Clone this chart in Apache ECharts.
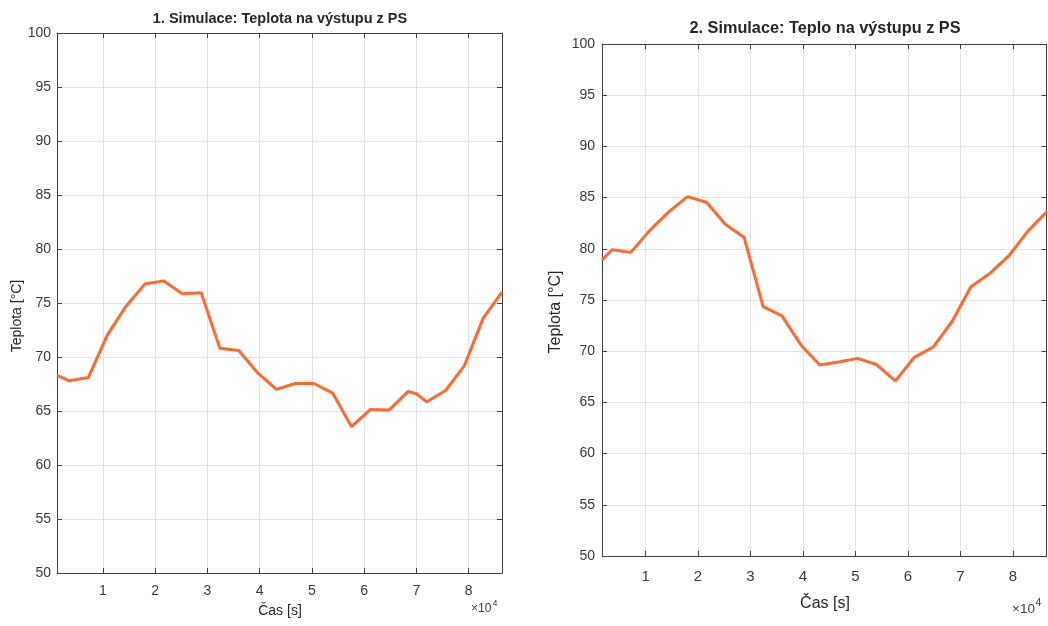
<!DOCTYPE html>
<html>
<head>
<meta charset="utf-8">
<title>Simulace – teplota na výstupu z PS</title>
<script src="https://cdn.jsdelivr.net/npm/echarts@6/dist/echarts.min.js"></script>
<style>
  html, body { margin: 0; padding: 0; background: #ffffff; }
  #chart { width: 1048px; height: 626px; }
</style>
</head>
<body>
<div id="chart"></div>
<script>
// Simulation 1: outlet temperature [°C] against time [s]
const sim1Time = [1200, 3600, 7200, 10800, 14400, 18000, 21600, 25200, 28800, 32400, 36000, 39600,
  43200, 46800, 50400, 54000, 57600, 61200, 64800, 68400, 70000, 72000, 75600, 79200, 82800, 86400];
const sim1Temp = [68.3, 67.8, 68.1, 72.0, 74.7, 76.75, 77.05, 75.85, 75.95, 70.8, 70.6, 68.55,
  67.0, 67.55, 67.55, 66.65, 63.55, 65.15, 65.1, 66.8, 66.6, 65.85, 66.9, 69.2, 73.6, 76.0];

// Simulation 2: outlet heat (temperature) [°C] against time [s]
const sim2Time = [1700, 3600, 7200, 10800, 14400, 18000, 21600, 25200, 28800, 32400, 36000, 39600,
  43200, 46800, 50400, 54000, 57600, 61200, 64800, 68400, 72000, 75600, 79200, 82800, 86400];
const sim2Temp = [78.9, 79.9, 79.65, 81.8, 83.6, 85.1, 84.55, 82.4, 81.1, 74.35, 73.45, 70.6,
  68.65, 68.95, 69.3, 68.7, 67.1, 69.4, 70.4, 72.9, 76.3, 77.6, 79.3, 81.7, 83.6];

// Axis ticks (time axis labelled in units of 10^4 s)
const timeTicks = [10000, 20000, 30000, 40000, 50000, 60000, 70000, 80000];
const tempMin = 50, tempMax = 100, tempStep = 5;

const titles = ['1. Simulace: Teplota na výstupu z PS', '2. Simulace: Teplo na výstupu z PS'];
const xName = 'Čas [s]';
const yName = 'Teplota [°C]';

const FONT = '"Liberation Sans", Arial, sans-serif';
const AXIS_COLOR = '#404040';
const GRID_COLOR = '#e3e3e3';
const LINE_COLOR = '#ff6a2c';

function pairs(t, v) { return t.map((x, i) => [x, v[i]]); }

const grids = [
  { left: 57, right: 546, top: 33, bottom: 53 },
  { left: 602, right: 1.5, top: 44, bottom: 70 }
];
const xRanges = [[1200, 86400], [1700, 86400]];
const xLabelSize = [14, 15];
const xLabelMargin = [11, 13];

const xAxes = [], yAxes = [], series = [];
for (let g = 0; g < 2; g++) {
  // bottom time axis with labels and grid lines
  xAxes.push({
    type: 'value', gridIndex: g, position: 'bottom',
    min: xRanges[g][0], max: xRanges[g][1],
    axisLine: { show: true, onZero: false, lineStyle: { color: AXIS_COLOR, width: 1 } },
    axisTick: { show: true, inside: true, length: 5, customValues: timeTicks, lineStyle: { color: AXIS_COLOR } },
    axisLabel: {
      customValues: timeTicks, formatter: v => String(v / 10000),
      color: '#383838', fontFamily: FONT, fontSize: xLabelSize[g], margin: xLabelMargin[g]
    },
    splitLine: { show: true, lineStyle: { color: GRID_COLOR, width: 1 } }
  });
  // top frame edge
  xAxes.push({
    type: 'value', gridIndex: g, position: 'top',
    min: xRanges[g][0], max: xRanges[g][1],
    axisLine: { show: true, onZero: false, lineStyle: { color: AXIS_COLOR, width: 1 } },
    axisTick: { show: true, inside: true, length: 5, customValues: timeTicks, lineStyle: { color: AXIS_COLOR } },
    axisLabel: { show: false },
    splitLine: { show: false }
  });
  // left temperature axis
  yAxes.push({
    type: 'value', gridIndex: g, position: 'left',
    min: tempMin, max: tempMax, interval: tempStep,
    axisLine: { show: true, onZero: false, lineStyle: { color: AXIS_COLOR, width: 1 } },
    axisTick: { show: true, inside: true, length: 5, lineStyle: { color: AXIS_COLOR } },
    axisLabel: { color: '#383838', fontFamily: FONT, fontSize: 14, margin: g === 0 ? 6 : 7 },
    splitLine: { show: true, lineStyle: { color: GRID_COLOR, width: 1 } }
  });
  // right frame edge
  yAxes.push({
    type: 'value', gridIndex: g, position: 'right',
    min: tempMin, max: tempMax, interval: tempStep,
    axisLine: { show: true, onZero: false, lineStyle: { color: AXIS_COLOR, width: 1 } },
    axisTick: { show: true, inside: true, length: 5, lineStyle: { color: AXIS_COLOR } },
    axisLabel: { show: false },
    splitLine: { show: false }
  });
}

series.push({
  type: 'line', xAxisIndex: 0, yAxisIndex: 0, data: pairs(sim1Time, sim1Temp),
  showSymbol: false, symbol: 'none', clip: true,
  lineStyle: { color: LINE_COLOR, width: 3 }
});
series.push({
  type: 'line', xAxisIndex: 2, yAxisIndex: 2, data: pairs(sim2Time, sim2Temp),
  showSymbol: false, symbol: 'none', clip: true,
  lineStyle: { color: LINE_COLOR, width: 3 }
});

function txt(x, y, text, size, opts) {
  return Object.assign({
    type: 'text', x: x, y: y, silent: true,
    style: Object.assign({
      text: text, fill: '#262626', font: size + 'px ' + FONT,
      textAlign: 'center', textVerticalAlign: 'middle'
    }, (opts && opts.style) || {})
  }, opts && opts.rotation !== undefined ? { rotation: opts.rotation } : {});
}

const graphics = [
  // chart titles
  txt(280, 19, titles[0], 14.5, { style: { font: 'bold 14.5px ' + FONT } }),
  txt(825, 29, titles[1], 16.3, { style: { font: 'bold 16.3px ' + FONT } }),
  // x axis names
  txt(280, 611, xName, 14),
  txt(825, 604, xName, 16),
  // y axis names
  txt(17, 316, yName, 14, { rotation: Math.PI / 2 }),
  txt(556, 312, yName, 16, { rotation: Math.PI / 2 }),
  // exponent markers of the time axes
  txt(471, 609, '×10', 12, { style: { textAlign: 'left', fill: '#404040' } }),
  txt(492.5, 603.5, '4', 9, { style: { textAlign: 'left', fill: '#404040' } }),
  txt(1012, 609.5, '×10', 13.5, { style: { textAlign: 'left', fill: '#404040' } }),
  txt(1035.5, 603, '4', 10.5, { style: { textAlign: 'left', fill: '#404040' } })
];

const chart = echarts.init(document.getElementById('chart'), null, { renderer: 'canvas' });
chart.setOption({
  animation: false,
  backgroundColor: '#ffffff',
  grid: grids,
  xAxis: xAxes,
  yAxis: yAxes,
  series: series,
  graphic: graphics
});
</script>
</body>
</html>
